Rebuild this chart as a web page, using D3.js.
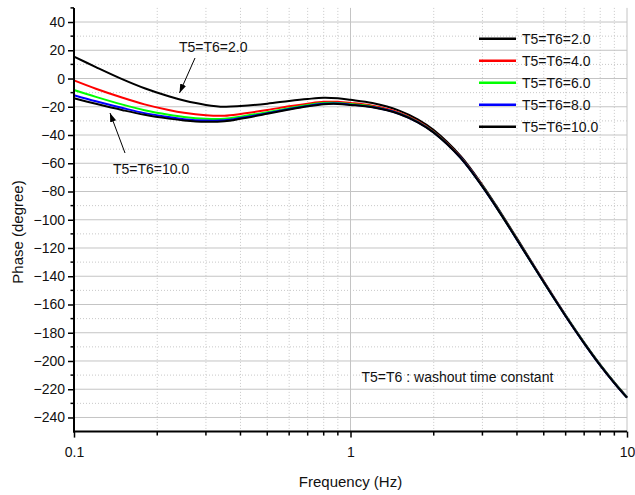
<!DOCTYPE html>
<html>
<head>
<meta charset="utf-8">
<script src="https://cdn.jsdelivr.net/npm/d3@7"></script>
<style>
  html, body { margin: 0; padding: 0; background: #fff; }
  svg text { font-family: "Liberation Sans", Arial, sans-serif; fill: #111; }
</style>
</head>
<body>
<svg id="chart" width="635" height="495"></svg>
<script>
// Frequency points (Hz)
const freq = [0.1, 0.12, 0.15, 0.18, 0.22, 0.25, 0.3, 0.35, 0.4, 0.5, 0.6, 0.7, 0.8, 0.9, 1.0,
              1.2, 1.5, 1.75, 2, 2.5, 3, 3.5, 4, 5, 6, 7, 8, 9, 10];

// Phase (degree) for each washout time constant
const phaseT2  = [15.5, 8.1, -0.6, -6.9, -12.6, -15.6, -18.7, -20.0, -19.5, -17.8, -15.9, -14.5, -13.6, -14.0, -15.1,
                  -17.4, -22.7, -28.9, -36.5, -54.8, -75.4, -95.2, -113.2, -143.6, -167.7, -187.0, -202.6, -215.2, -225.6];
const phaseT4  = [-1.3, -7.2, -13.6, -18.3, -22.3, -24.3, -26.0, -26.3, -25.1, -22.3, -19.7, -17.8, -16.5, -16.5, -17.3,
                  -19.3, -24.2, -30.2, -37.7, -55.7, -76.1, -95.8, -113.8, -144.0, -168.1, -187.3, -202.9, -215.5, -225.9];
const phaseT6  = [-8.1, -13.0, -18.5, -22.4, -25.6, -27.2, -28.5, -28.5, -27.0, -23.8, -21.0, -18.8, -17.4, -17.3, -18.1,
                  -19.9, -24.7, -30.7, -38.0, -56.0, -76.4, -96.0, -114.0, -144.2, -168.2, -187.4, -203.0, -215.5, -225.9];
const phaseT8  = [-11.8, -16.1, -20.9, -24.5, -27.3, -28.8, -29.8, -29.6, -28.0, -24.5, -21.6, -19.4, -17.9, -17.7, -18.5,
                  -20.2, -24.9, -30.9, -38.2, -56.1, -76.5, -96.1, -114.1, -144.3, -168.3, -187.5, -203.1, -215.6, -226.0];
const phaseT10 = [-14.0, -17.9, -22.4, -25.7, -28.4, -29.7, -30.6, -30.2, -28.5, -25.0, -22.0, -19.7, -18.2, -18.0, -18.7,
                  -20.4, -25.1, -31.0, -38.3, -56.2, -76.6, -96.2, -114.1, -144.3, -168.3, -187.5, -203.1, -215.6, -226.0];

const seriesNames  = ["T5=T6=2.0", "T5=T6=4.0", "T5=T6=6.0", "T5=T6=8.0", "T5=T6=10.0"];
const seriesColors = ["#000000", "#ff0000", "#00ff00", "#0000ff", "#000000"];
const seriesValues = [phaseT2, phaseT4, phaseT6, phaseT8, phaseT10];

const xTickValues = [0.1, 1, 10];
const xTickLabels = ["0.1", "1", "10"];
const yTickValues = d3.range(-240, 41, 20);

const svg = d3.select("#chart");
const m = { left: 74, right: 627, top: 7.9, bottom: 431.6 };

const x = d3.scaleLog().domain([0.1, 10]).range([m.left, m.right]);
const y = d3.scaleLinear().domain([-250, 50]).range([m.bottom, m.top]);

// Minor positions
const xMinor = [];
[0.1, 1].forEach(d => { for (let k = 2; k <= 9; k++) xMinor.push(d * k); });
const yMinor = d3.range(-230, 51, 20);

// Grid
const grid = svg.append("g");
grid.selectAll(".gxm").data(xMinor).join("line")
  .attr("x1", d => x(d)).attr("x2", d => x(d))
  .attr("y1", m.top).attr("y2", m.bottom)
  .attr("stroke", "#c8c8c8").attr("stroke-width", 1).attr("stroke-dasharray", "1,2");
grid.selectAll(".gym").data(yMinor.filter(v => v < 50)).join("line")
  .attr("x1", m.left).attr("x2", m.right)
  .attr("y1", d => y(d)).attr("y2", d => y(d))
  .attr("stroke", "#c8c8c8").attr("stroke-width", 1).attr("stroke-dasharray", "1,2");
grid.selectAll(".gyM").data(yTickValues).join("line")
  .attr("x1", m.left).attr("x2", m.right)
  .attr("y1", d => y(d)).attr("y2", d => y(d))
  .attr("stroke", "#c4c4c4").attr("stroke-width", 1);
grid.selectAll(".gxM").data([1, 10]).join("line")
  .attr("x1", d => x(d)).attr("x2", d => x(d))
  .attr("y1", m.top).attr("y2", m.bottom)
  .attr("stroke", "#c4c4c4").attr("stroke-width", 1);

// Curves
const line = d3.line()
  .x((d, i) => x(freq[i]))
  .y(d => y(d))
  .curve(d3.curveCatmullRom.alpha(0.5));

svg.append("g").selectAll("path").data(seriesValues).join("path")
  .attr("d", d => line(d))
  .attr("fill", "none")
  .attr("stroke", (d, i) => seriesColors[i])
  .attr("stroke-width", 2);

// Y axis
const yAxis = d3.axisLeft(y).tickValues(yTickValues).tickSize(6).tickPadding(3).tickFormat(d3.format("d"));
const gy = svg.append("g").attr("transform", `translate(${m.left},0)`).call(yAxis);
gy.select(".domain").remove();
gy.selectAll(".tick line").attr("stroke", "#000").attr("stroke-width", 1.5);
gy.selectAll(".tick text").style("font-size", "14px").attr("font-family", null);
svg.append("g").selectAll("line").data(yMinor).join("line")
  .attr("x1", m.left - 3.5).attr("x2", m.left)
  .attr("y1", d => y(d)).attr("y2", d => y(d))
  .attr("stroke", "#000").attr("stroke-width", 1.5);

// X axis
const xAxis = d3.axisBottom(x).tickValues(xTickValues).tickSize(6).tickPadding(9)
  .tickFormat((d, i) => xTickLabels[i]);
const gx = svg.append("g").attr("transform", `translate(0,${m.bottom})`).call(xAxis);
gx.select(".domain").remove();
gx.selectAll(".tick line").attr("stroke", "#000").attr("stroke-width", 1.5);
gx.selectAll(".tick text").style("font-size", "14px").attr("font-family", null);
svg.append("g").selectAll("line").data(xMinor).join("line")
  .attr("x1", d => x(d)).attr("x2", d => x(d))
  .attr("y1", m.bottom).attr("y2", m.bottom + 4)
  .attr("stroke", "#000").attr("stroke-width", 1.5);

// Axis lines
svg.append("line").attr("x1", m.left).attr("x2", m.left)
  .attr("y1", m.top).attr("y2", m.bottom + 1)
  .attr("stroke", "#000").attr("stroke-width", 2);
svg.append("line").attr("x1", m.left - 1).attr("x2", m.right)
  .attr("y1", m.bottom).attr("y2", m.bottom)
  .attr("stroke", "#000").attr("stroke-width", 2);

// Axis titles
svg.append("text").attr("x", (m.left + m.right) / 2).attr("y", 487)
  .attr("text-anchor", "middle").style("font-size", "15px").text("Frequency (Hz)");
svg.append("text").attr("transform", "translate(23,232) rotate(-90)")
  .attr("text-anchor", "middle").style("font-size", "15px").text("Phase (degree)");

// Legend
const legend = svg.append("g");
seriesNames.forEach((name, i) => {
  const ly = 38.7 + i * 22;
  legend.append("line").attr("x1", 479).attr("x2", 516).attr("y1", ly).attr("y2", ly)
    .attr("stroke", seriesColors[i]).attr("stroke-width", 2.5);
  legend.append("text").attr("x", 522).attr("y", ly + 5).style("font-size", "14px").text(name);
});

// Annotations
const defs = svg.append("defs");
defs.append("marker").attr("id", "arrow").attr("viewBox", "0 0 10 10")
  .attr("refX", 10).attr("refY", 5).attr("markerWidth", 9).attr("markerHeight", 9)
  .attr("markerUnits", "userSpaceOnUse").attr("orient", "auto")
  .append("path").attr("d", "M0,1.5 L10,5 L0,8.5 Z").attr("fill", "#000");

svg.append("text").attr("x", 179).attr("y", 51.5).style("font-size", "14px").text(seriesNames[0]);
svg.append("line").attr("x1", 195).attr("y1", 58).attr("x2", 179.5).attr("y2", 93)
  .attr("stroke", "#000").attr("stroke-width", 1).attr("marker-end", "url(#arrow)");

svg.append("text").attr("x", 113).attr("y", 174).style("font-size", "14px").text(seriesNames[4]);
svg.append("line").attr("x1", 125).attr("y1", 153).attr("x2", 110).attr("y2", 113)
  .attr("stroke", "#000").attr("stroke-width", 1).attr("marker-end", "url(#arrow)");

svg.append("text").attr("x", 361.5).attr("y", 382).style("font-size", "14px")
  .text("T5=T6 : washout time constant");
</script>
</body>
</html>
